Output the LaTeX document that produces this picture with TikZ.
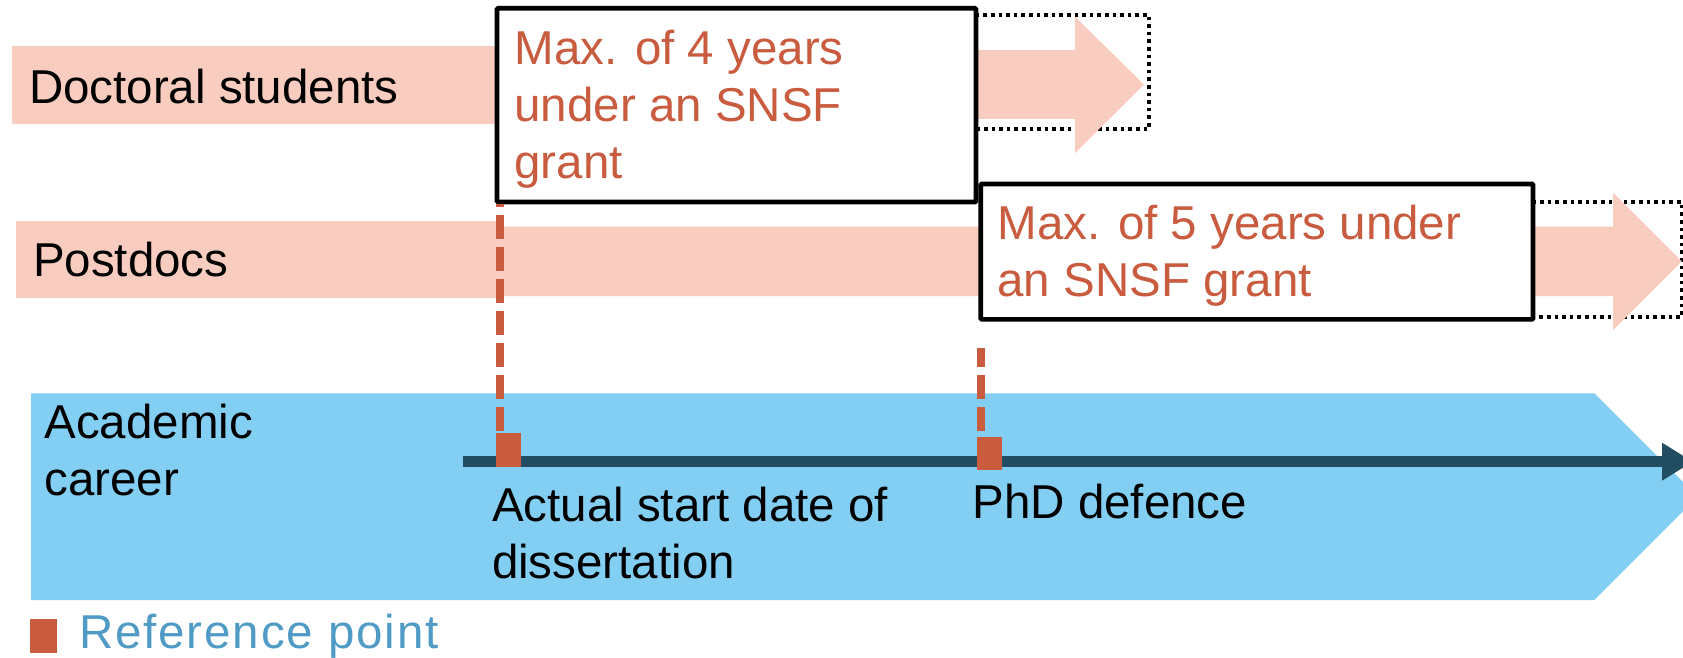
\documentclass[tikz,border=0pt]{standalone}
\usepackage{fontspec}
\setmainfont{Liberation Sans}
\usetikzlibrary{arrows.meta,calc}
\definecolor{pinkbar}{HTML}{F8CCBF}
\definecolor{rust}{HTML}{C95B3F}
\definecolor{skyblue}{HTML}{83CFF3}
\definecolor{darkline}{HTML}{234D62}
\definecolor{legendblue}{HTML}{4F9BC6}
\begin{document}
\begin{tikzpicture}[x=1pt,y=-1pt,
  lbl/.style={inner sep=0pt, outer sep=0pt, anchor=base west, align=left, font=\fontsize{47.5}{57}\selectfont},
  grant/.style={lbl, text=rust},
  boxframe/.style={draw=black, fill=white, line width=4.6pt, rounded corners=1pt, inner sep=0pt, outer sep=0pt, anchor=north west},
  dotframe/.style={draw=black, line width=4pt, dash pattern=on 3.6pt off 4pt},
  refline/.style={draw=rust, line width=8pt, dash pattern=on 23.5pt off 8.5pt},
  marker/.style={fill=rust, draw=none, inner sep=0pt, outer sep=0pt, anchor=north west},
]
\useasboundingbox (0,0) rectangle (1683,658);

% pink bars
\fill[pinkbar] (12,46) rectangle (497,123.7);
\fill[pinkbar] (16,221) rectangle (500,298.3);

% dotted frames
\draw[dotframe] (976,15) rectangle (1149,128.7);
\draw[dotframe] (1533,201.7) rectangle (1681.5,317);

% pink arrows
\fill[pinkbar] (976,50) -- (1075,50) -- (1075,16.7) -- (1144,84.5) -- (1075,153) -- (1075,119) -- (976,119) -- cycle;
\fill[pinkbar] (500,226.7) -- (1613,226.7) -- (1613,192.7) -- (1681.7,261.3) -- (1613,330) -- (1613,296) -- (500,296) -- cycle;

% boxes
\node[boxframe, minimum width=479pt, minimum height=193.7pt] (box1) at (497,8.3) {};
\node[boxframe, minimum width=552.3pt, minimum height=135.3pt] (box2) at (980.7,184) {};

% academic career band
\fill[skyblue] (31,393.3) -- (1594.3,393.3) -- (1697.7,496.7) -- (1594.3,600) -- (31,600) -- cycle;

% timeline
\coordinate (tlstart) at (463,461.7);
\coordinate (tlend) at (1693,461.7);
\draw[darkline, line width=11.3pt, -{Triangle[length=31pt,width=35.7pt]}] (tlstart) -- (tlend);

% reference point markers
\node[marker, minimum width=25pt, minimum height=33.4pt] (m1) at (496,433.3) {};
\node[marker, minimum width=25.6pt, minimum height=33.3pt] (m2) at (976.7,436.7) {};

% dashed reference lines
\coordinate (d1) at ($(m1.north west)+(4,-2.6)$);
\coordinate (d2) at ($(m2.north west)+(4,-6)$);
\draw[refline, shorten >=2.3pt] (d1) -- (d1 |- box1.south);
\draw[refline] (d2) -- ($(d2 |- box2.south)+(0,28.4)$);

% texts (base anchor = baseline of the last line)
\node[lbl] (doc) at (29,103.3) {Doctoral students};
\node[lbl] (post) at (33,276) {Postdocs};
\node[grant] (g4) at (514.5,178) {Max. of 4 years\\under an SNSF\\grant};
\node[grant] (g5) at (997.5,296.7) {Max. of 5 years under\\an SNSF grant};
\node[lbl] (acad) at (44.5,495) {Academic\\career};
\node[lbl] (start) at (492,578) {Actual start date of\\dissertation};
\node[lbl] (phd) at (972.5,518) {PhD defence};

% legend
\node[marker, minimum width=26.3pt, minimum height=33.4pt] (legsq) at (30.4,619.3) {};
\node[lbl, text=legendblue] (leg) at (79,648) {\addfontfeature{LetterSpace=4}Reference point};
\end{tikzpicture}
\end{document}
